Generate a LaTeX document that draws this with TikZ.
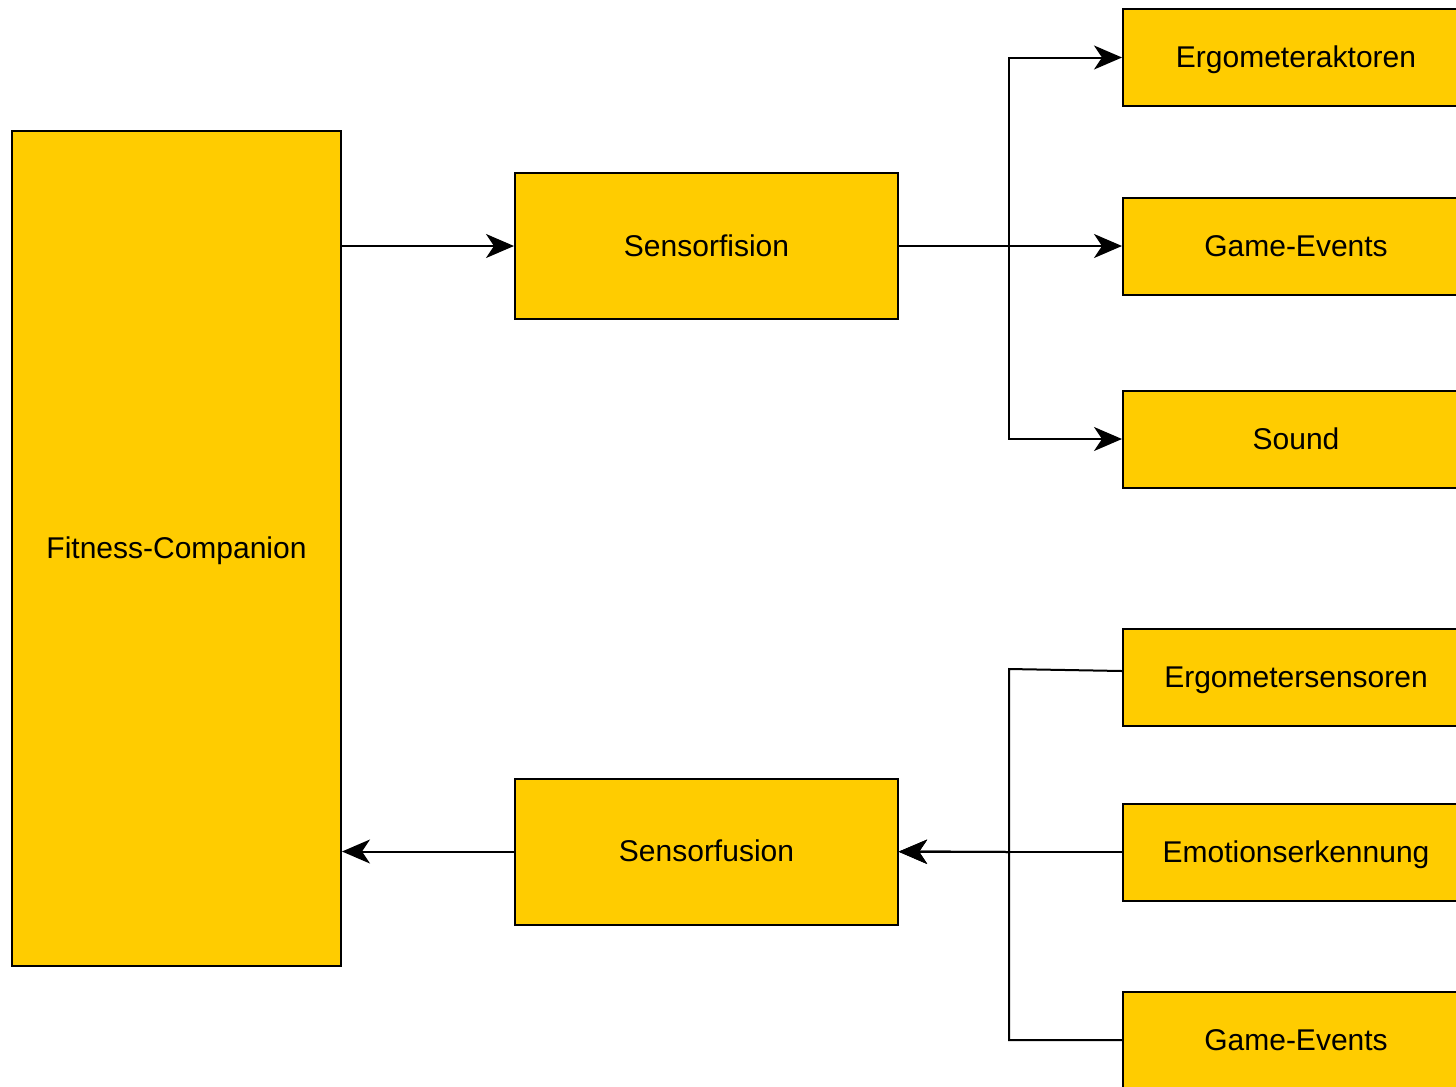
\documentclass[tikz,border=0pt]{standalone}
\usepackage{fontspec}
\setmainfont{Liberation Sans}
\usetikzlibrary{arrows.meta,calc}
\definecolor{boxfill}{HTML}{FFCC00}
\begin{document}
\begin{tikzpicture}[x=0.75pt,y=-0.75pt,
  box/.style={draw=black,fill=boxfill,line width=1.5pt,inner sep=0pt,
    text height=16pt,text depth=1pt,
    font=\fontsize{22.5}{27}\selectfont},
  bigbox/.style={box,minimum width=246.75pt,minimum height=626.25pt},
  midbox/.style={box,minimum width=287.25pt,minimum height=109.5pt},
  rbox/.style={box,minimum width=259.5pt,minimum height=72.75pt},
  arr/.style={draw=black,line width=1.5pt,-{Stealth[length=21pt,width=18pt,inset=6pt]}},
  ln/.style={draw=black,line width=1.5pt}]
\useasboundingbox (0,0) rectangle (1456,1086);
\clip (0,0) rectangle (1456,1086);
\node[bigbox] (fc) at (176.5,548.5) {Fitness-Companion};
\node[midbox] (sf) at (706.5,246) {Sensorfision};
\node[midbox] (su) at (706.5,851.5) {Sensorfusion};
\node[rbox] (ea) at (1296,57.5) {Ergometeraktoren};
\node[rbox] (ge1) at (1296,246) {Game-Events};
\node[rbox] (snd) at (1296,439) {Sound};
\node[rbox] (es) at (1296,677.5) {Ergometersensoren};
\node[rbox] (em) at (1296,852) {Emotionserkennung};
\node[rbox] (ge2) at (1296,1040) {Game-Events};
\coordinate (j1) at (1009,246);
\coordinate (j2) at (1009,852);
\coordinate (k1) at (1009,669);
% top
\draw[arr] (fc.east|-sf.west) -- (sf.west);
\draw[arr] (sf.east) -- (j1) |- (ea.west);
\draw[arr] (sf.east) -- (ge1.west);
\draw[arr] (sf.east) -- (j1) |- (snd.west);
% bottom
\draw[arr] ($(es.west)+(0,-6.5)$) -- (k1) -- (j2) -- (su.east);
\draw[arr] (em.west) -- (su.east|-em.west);
\draw[arr] (ge2.west) -| (j2) -- (su.east);
\draw[arr] (su.west) -- (fc.east|-su.west);
\end{tikzpicture}
\end{document}
